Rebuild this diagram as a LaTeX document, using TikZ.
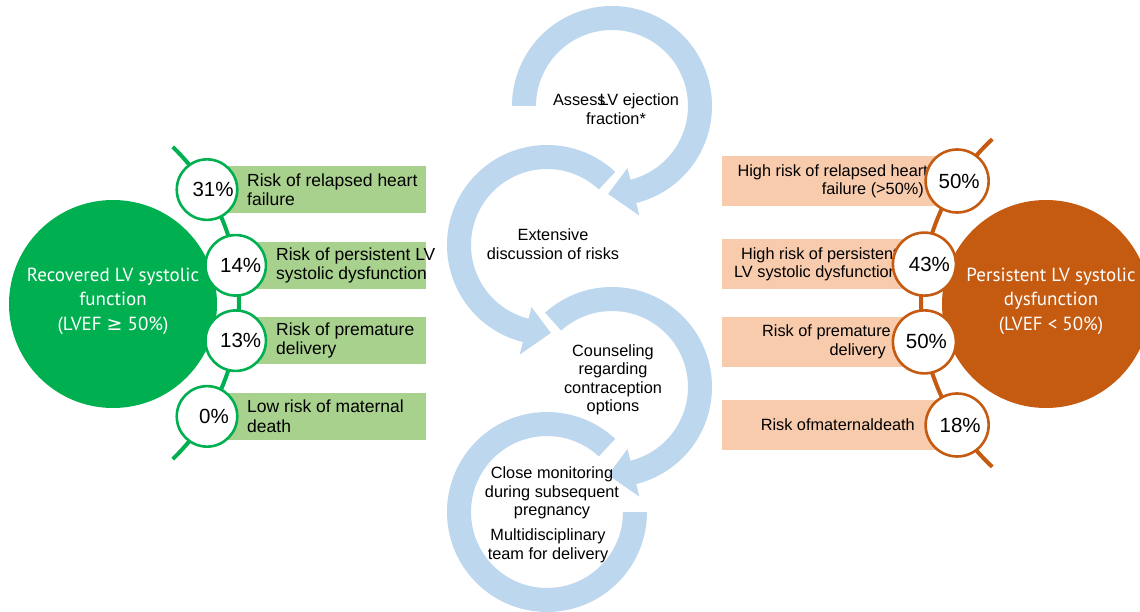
\documentclass[tikz,border=0pt]{standalone}
\usepackage{fontspec}
\setmainfont{Liberation Sans}
\newfontfamily\circfont{PT Sans}
\newfontfamily\symfont{DejaVu Sans}
\usetikzlibrary{calc}
\definecolor{gdark}{HTML}{00B050}
\definecolor{glight}{HTML}{A9D18E}
\definecolor{odark}{HTML}{C55A11}
\definecolor{olight}{HTML}{F8CBAD}
\definecolor{arrblue}{HTML}{BDD7EE}
\begin{document}
\begin{tikzpicture}[x=1pt,y=1pt,
  arr/.style={fill=arrblue},
  gline/.style={draw=gdark,line width=4pt},
  oline/.style={draw=odark,line width=4pt},
  bigc/.style={circle,minimum size=208pt,inner sep=0pt},
  gsmall/.style={circle,draw=gdark,line width=2.6pt,fill=white,minimum size=60.5pt,inner sep=0pt},
  osmall/.style={circle,draw=odark,line width=2.6pt,fill=white,minimum size=63pt,inner sep=0pt},
  gbox/.style={fill=glight,inner sep=0pt,minimum height=47pt,anchor=west},
  obox/.style={fill=olight,inner sep=0pt,minimum height=50pt,anchor=east},
  pct/.style={font=\fontsize{20.5}{24}\selectfont,inner sep=0pt},
  ltext/.style={font=\fontsize{17.5}{19.5}\selectfont,align=left,anchor=west,inner sep=0pt},
  rtext/.style={font=\fontsize{16.3}{18.3}\selectfont,align=right,anchor=east,inner sep=0pt},
  ctext/.style={font=\fontsize{16.3}{18.5}\selectfont,align=center,inner sep=0pt},
  bigtext/.style={font=\circfont\fontsize{19}{24.5}\selectfont,align=center,text=white,inner sep=0pt},
]
\useasboundingbox (0,0) rectangle (1140,611);
\clip (0,0) rectangle (1140,611);
\fill[white] (0,0) rectangle (1140,611);

% centres of the blue circular arrows
\coordinate (cA) at (612,505);
\coordinate (cB) at (547,366);
\coordinate (cC) at (612,224);
\coordinate (cD) at (547,99);

\fill[arr] ($(cA)+(180:100)$) arc[start angle=180,end angle=-76,radius=100]
  -- ($(cA)+(-76:113)$) -- ($(cA)+(-92.5:88)$) -- ($(cA)+(-76:64)$)
  -- ($(cA)+(-76:76)$) arc[start angle=-76,end angle=180,radius=76] -- cycle;
\fill[arr] ($(cB)+(47:100)$) arc[start angle=47,end angle=256,radius=100]
  -- ($(cB)+(256:113)$) -- ($(cB)+(272.5:88)$) -- ($(cB)+(256:64)$)
  -- ($(cB)+(256:76)$) arc[start angle=256,end angle=47,radius=76] -- cycle;
\fill[arr] ($(cC)+(132:100)$) arc[start angle=132,end angle=-76,radius=100]
  -- ($(cC)+(-76:113)$) -- ($(cC)+(-92.5:88)$) -- ($(cC)+(-76:64)$)
  -- ($(cC)+(-76:76)$) arc[start angle=-76,end angle=132,radius=76] -- cycle;
\fill[arr] ($(cD)+(47:100)$) arc[start angle=47,end angle=360,radius=100]
  -- ($(cD)+(0:76)$) arc[start angle=360,end angle=47,radius=76] -- cycle;

% big circles
\node[bigc,fill=gdark] (gbig) at (113,307) {};
\node[bigc,fill=odark] (obig) at (1046,307) {};
\node[bigtext] (gbigt) at (113,310) {Recovered LV systolic\\function\\(LVEF {\symfont ≥} 50\%)};
\node[bigtext] (obigt) at (1051,310) {Persistent LV systolic\\dysfunction\\(LVEF < 50\%)};

% arcs
\coordinate (gc) at (22,308);
\coordinate (oc) at (1145,308);
\draw[gline] ($(gc)+(-46:217)$) arc[start angle=-46,end angle=46,radius=217];
\draw[oline] ($(oc)+(133:224)$) arc[start angle=133,end angle=227,radius=224];

% positions of small circles
\coordinate (g1) at ($(gc)+(31.5:217)$);
\coordinate (g2) at ($(gc)+(10:217)$);
\coordinate (g3) at ($(gc)+(-10:217)$);
\coordinate (g4) at ($(gc)+(-31.5:217)$);
\coordinate (o1) at ($(oc)+(147:224)$);
\coordinate (o2) at ($(oc)+(170:224)$);
\coordinate (o3) at ($(oc)+(190:224)$);
\coordinate (o4) at ($(oc)+(213:224)$);

% boxes
\node[gbox,minimum width=219pt] (gb1) at (g1) {};
\node[gbox,minimum width=190.3pt] (gb2) at (g2) {};
\node[gbox,minimum width=190.3pt] (gb3) at (g3) {};
\node[gbox,minimum width=219pt] (gb4) at (g4) {};
\node[obox,minimum width=235pt] (ob1) at (o1) {};
\node[obox,minimum width=202.4pt] (ob2) at (o2) {};
\node[obox,minimum width=202.4pt] (ob3) at (o3) {};
\node[obox,minimum width=235pt] (ob4) at (o4) {};

% box texts
\node[ltext] (gt1) at (247,0 |- g1) {Risk of relapsed heart\\failure};
\node[ltext] (gt2) at (276,0 |- g2) {Risk of persistent LV\\systolic dysfunction};
\node[ltext] (gt3) at (276,0 |- g3) {Risk of premature\\delivery};
\node[ltext] (gt4) at (247,0 |- g4) {Low risk of maternal\\death};
\node[rtext] (ot1) at (928,0 |- o1) {High risk of relapsed heart\\failure (>50\%)\hspace*{4pt}};
\node[rtext] (ot2) at (898,0 |- o2) {High risk of persistent\\LV systolic dysfunction};
\node[rtext] (ot3) at (891,0 |- o3) {Risk of premature\\delivery\hspace*{5pt}};
\node[rtext] (ot4) at (915,0 |- o4) {Risk ofmaternaldeath};

% small circles
\node[gsmall] (gs1) at (g1) {};
\node[gsmall] (gs2) at (g2) {};
\node[gsmall] (gs3) at (g3) {};
\node[gsmall] (gs4) at (g4) {};
\node[osmall] (os1) at (o1) {};
\node[osmall] (os2) at (o2) {};
\node[osmall] (os3) at (o3) {};
\node[osmall] (os4) at (o4) {};
\node[pct] (gp1) at ($(g1)+(6,0)$) {31\%};
\node[pct] (gp2) at ($(g2)+(5,0)$) {14\%};
\node[pct] (gp3) at ($(g3)+(5,0)$) {13\%};
\node[pct] (gp4) at ($(g4)+(7,0)$) {0\%};
\node[pct] (op1) at ($(o1)+(2,0)$) {50\%};
\node[pct] (op2) at ($(o2)+(5,0)$) {43\%};
\node[pct] (op3) at ($(o3)+(2,0)$) {50\%};
\node[pct] (op4) at ($(o4)+(3,0)$) {18\%};

% centre texts
\node[ctext] (c1) at (616,502) {Assess\kern-6pt LV ejection\\fraction*};
\node[ctext] (c2) at (553,367) {Extensive\\discussion of risks};
\node[ctext] (c3) at (613,231) {Counseling\\regarding\\contraception\\options};
\node[ctext] (c4) at (552,118) {Close monitoring\\during subsequent\\pregnancy};
\node[ctext] (c5) at (548,65) {Multidisciplinary\\team for delivery};
\end{tikzpicture}
\end{document}
